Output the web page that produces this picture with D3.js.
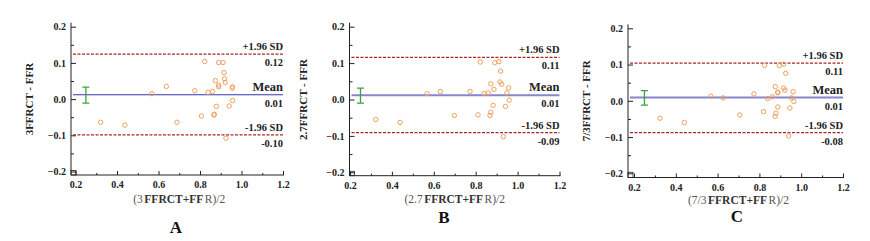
<!doctype html>
<html lang="en">
<head>
<meta charset="UTF-8">
<title>Bland-Altman plots</title>
<script src="https://cdn.jsdelivr.net/npm/d3@7"></script>
<style>
  body { margin: 0; background: #fff; }
  svg text { font-family: "Liberation Serif", "DejaVu Serif", serif; }
</style>
</head>
<body>
<svg id="chart" width="870" height="241"></svg>
<script>
// ---- data ----
const xTicks = [0.2, 0.4, 0.6, 0.8, 1.0, 1.2]
const yTicks = [-0.2, -0.1, 0.0, 0.1, 0.2]

// panel A: 3FFRCT
const aAvg  = [0.321, 0.438, 0.568, 0.638, 0.689, 0.775, 0.807, 0.823, 0.839, 0.860, 0.874, 0.879, 0.867, 0.869, 0.890, 0.890, 0.890, 0.911, 0.916, 0.918, 0.922, 0.925, 0.941, 0.957, 0.955, 0.957]
const aDiff = [-0.064, -0.072, 0.015, 0.035, -0.064, 0.023, -0.047, 0.104, 0.019, 0.021, 0.051, -0.020, -0.044, -0.042, 0.034, 0.039, 0.101, 0.101, 0.073, 0.056, 0.046, -0.108, -0.019, 0.034, 0.030, -0.004]
const aLines = [0.124, 0.012, -0.099]   // +1.96SD, mean, -1.96SD
const aCI = [-0.011, 0.033]

// panel B: 2.7FFRCT
const bAvg  = [0.323, 0.439, 0.568, 0.631, 0.698, 0.773, 0.811, 0.822, 0.840, 0.860, 0.872, 0.868, 0.872, 0.883, 0.887, 0.891, 0.911, 0.919, 0.916, 0.924, 0.932, 0.942, 0.949, 0.957, 0.960]
const bDiff = [-0.055, -0.063, 0.016, 0.022, -0.044, 0.022, -0.042, 0.103, 0.016, 0.018, 0.043, -0.044, -0.035, -0.016, 0.028, 0.101, 0.104, 0.078, 0.048, 0.042, -0.102, -0.019, 0.018, 0.032, -0.002]
const bLines = [0.116, 0.012, -0.091]
const bCI = [-0.010, 0.031]

// panel C: 7/3FFRCT
const cAvg  = [0.324, 0.441, 0.568, 0.626, 0.706, 0.774, 0.820, 0.825, 0.840, 0.862, 0.876, 0.875, 0.879, 0.888, 0.888, 0.888, 0.895, 0.916, 0.926, 0.916, 0.922, 0.940, 0.946, 0.953, 0.961, 0.965]
const cDiff = [-0.048, -0.060, 0.013, 0.008, -0.039, 0.019, -0.030, 0.098, 0.006, 0.011, 0.039, -0.043, -0.034, -0.017, 0.022, 0.024, 0.097, 0.101, 0.076, 0.035, 0.029, -0.097, -0.020, 0.008, 0.025, -0.002]
const cLines = [0.104, 0.009, -0.088]
const cCI = [-0.012, 0.028]

const yTitles = ["3FFRCT - FFR", "2.7FFRCT - FFR", "7/3FFRCT - FFR"]
const xTitles = [["(3", "FFRCT+FF", "R)/2"], ["(2.7", "FFRCT+FF", "R)/2"], ["(7/3 ", "FFRCT+FF", "R)/2"]]
const lineValueLabels = [["0.12", "0.01", "-0.10"], ["0.11", "0.01", "-0.09"], ["0.11", "0.01", "-0.08"]]
const panelLetters = ["A", "B", "C"]

// ---- layout per panel ----
const panels = [
  {avg: aAvg, diff: aDiff, lines: aLines, ci: aCI, axisX: 71, x0: 75.5, x1: 283, yTop: 26.7, yBot: 171.5, axisY: 175, meanColor: "#3434b4", meanW: 1.2, letterY: 233, letterX: 176, titleY: 203, titleOff: 38},
  {avg: bAvg, diff: bDiff, lines: bLines, ci: bCI, axisX: 349.5, x0: 350, x1: 559.5, yTop: 26.7, yBot: 172.3, axisY: 175.7, meanColor: "#8686cc", meanW: 2, letterY: 223, letterX: 444, titleY: 203, titleOff: 43},
  {avg: cAvg, diff: cDiff, lines: cLines, ci: cCI, axisX: 628, x0: 634, x1: 843, yTop: 28.3, yBot: 173.3, axisY: 177.5, meanColor: "#8686cc", meanW: 2, letterY: 222, letterX: 737, titleY: 203.5, titleOff: 38}
]

const svg = d3.select("#chart")

panels.forEach(function(p, i) {
  const x = d3.scaleLinear().domain([0.2, 1.2]).range([p.x0, p.x1])
  const y = d3.scaleLinear().domain([-0.2, 0.2]).range([p.yBot, p.yTop])
  const g = svg.append("g")

  // axes
  const yAxis = d3.axisLeft(y).tickValues(yTicks).tickFormat(d3.format(".1f")).tickSizeInner(-5).tickSizeOuter(0).tickPadding(5)
  const yMinor = d3.axisLeft(y).tickValues(d3.range(-0.15, 0.2, 0.1)).tickFormat("").tickSizeInner(-3).tickSizeOuter(0)
  const gy = g.append("g").attr("transform", "translate(" + p.axisX + ",0)").call(yAxis)
  g.append("g").attr("transform", "translate(" + p.axisX + ",0)").call(yMinor).select(".domain").remove()
  gy.select(".domain").attr("d", "M0," + (p.yTop - 4) + "V" + p.axisY)

  const xAxis = d3.axisBottom(x).tickValues(xTicks).tickFormat(d3.format(".1f")).tickSizeInner(-4).tickSizeOuter(0).tickPadding(6)
  const xMinor = d3.axisBottom(x).tickValues(d3.range(0.3, 1.2, 0.2)).tickFormat("").tickSizeInner(-2).tickSizeOuter(0)
  const gx = g.append("g").attr("transform", "translate(0," + p.axisY + ")").call(xAxis)
  g.append("g").attr("transform", "translate(0," + p.axisY + ")").call(xMinor).select(".domain").remove()
  gx.select(".domain").attr("d", "M" + p.axisX + ",0H" + (p.x1 + 1))

  g.selectAll(".tick text").attr("font-size", 10).attr("font-weight", "bold").attr("fill", "#222")
  g.selectAll(".domain, .tick line").attr("stroke", "#222").attr("stroke-width", 1)

  // little corner box
  g.append("rect").attr("x", p.axisX).attr("y", p.yBot - 1).attr("width", 5).attr("height", p.axisY - p.yBot + 1)
    .attr("fill", "none").attr("stroke", "#222").attr("stroke-width", 0.8)

  // limit lines
  const lineX0 = p.axisX + 2, lineX1 = p.x1
  p.lines.forEach(function(v, k) {
    const isMean = k == 1
    g.append("line")
      .attr("x1", lineX0).attr("x2", lineX1).attr("y1", y(v)).attr("y2", y(v))
      .attr("stroke", isMean ? p.meanColor : "#a82828")
      .attr("stroke-width", isMean ? p.meanW : 1.2)
      .attr("stroke-dasharray", isMean ? null : "3,1.5")
  })

  // line labels
  const names = ["+1.96 SD", "Mean", "-1.96 SD"]
  p.lines.forEach(function(v, k) {
    g.append("text").attr("x", lineX1).attr("y", y(v) - 4)
      .attr("text-anchor", "end").attr("font-weight", "bold")
      .attr("font-size", k == 1 ? 12.5 : 10.5).attr("fill", "#222")
      .text(names[k])
    g.append("text").attr("x", lineX1).attr("y", y(v) + 12)
      .attr("text-anchor", "end").attr("font-weight", "bold")
      .attr("font-size", 10.5).attr("fill", "#222")
      .text(lineValueLabels[i][k])
  })

  // CI of the mean
  const ex = x(0.25)
  g.append("path")
    .attr("d", "M" + (ex - 3.5) + "," + y(p.ci[1]) + "H" + (ex + 3.5) +
               "M" + ex + "," + y(p.ci[1]) + "V" + y(p.ci[0]) +
               "M" + (ex - 3.5) + "," + y(p.ci[0]) + "H" + (ex + 3.5))
    .attr("stroke", "#3aa43a").attr("stroke-width", 1.3).attr("fill", "none")

  // points
  g.selectAll("circle.pt").data(d3.zip(p.avg, p.diff)).join("circle")
    .attr("class", "pt")
    .attr("cx", d => x(d[0])).attr("cy", d => y(d[1])).attr("r", 2.2)
    .attr("fill", "none").attr("stroke", "#f0a060").attr("stroke-width", 1)

  // titles
  g.append("text")
    .attr("transform", "translate(" + (p.axisX - p.titleOff) + "," + ((p.yTop + p.yBot) / 2) + ") rotate(-90)")
    .attr("text-anchor", "middle").attr("font-weight", "bold").attr("font-size", 11).attr("fill", "#222")
    .text(yTitles[i])

  // x title: three pieces side by side (plain / bold / plain)
  const gap = 1.5
  const parts = xTitles[i].map(function(s, k) {
    return g.append("text").attr("y", p.titleY).attr("font-size", 11.5)
      .attr("font-weight", k == 1 ? "bold" : "normal")
      .attr("fill", k == 1 ? "#333" : "#555")
      .text(s)
  })
  const widths = parts.map(t => t.node().getComputedTextLength())
  let cx = (p.x0 + p.x1) / 2 - (d3.sum(widths) + 2 * gap) / 2
  parts.forEach(function(t, k) { t.attr("x", cx); cx += widths[k] + gap })

  g.append("text").attr("x", p.letterX).attr("y", p.letterY)
    .attr("text-anchor", "middle").attr("font-weight", "bold").attr("font-size", 17).attr("fill", "#111")
    .text(panelLetters[i])
})
</script>
</body>
</html>
